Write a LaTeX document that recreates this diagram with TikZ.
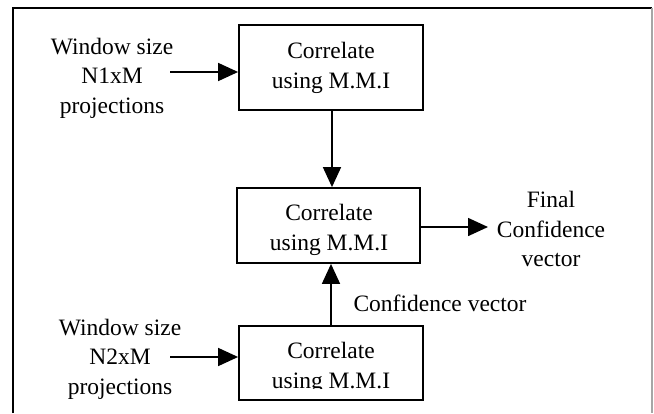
\documentclass[tikz,border=0pt]{standalone}
\usepackage{fontspec}
\setmainfont{Liberation Serif}
\usetikzlibrary{arrows.meta,calc}
\begin{document}
\begin{tikzpicture}[x=1pt,y=-1pt,
  boxnode/.style={draw,line width=1.8pt,inner sep=0pt},
  txt/.style={align=center,inner sep=0pt,font=\fontsize{23.5}{29.5}\selectfont},
  arr/.style={line width=1.6pt,-{Triangle[length=20pt,width=18pt]}}]
\useasboundingbox (0,0) rectangle (654,413);
\fill[white] (0,0) rectangle (654,413);
% frame
\draw[line width=2pt] (13,413) -- (13,8) -- (652,8);
\draw[line width=1.5pt,gray!70] (652,8) -- (652,413);
% boxes
\node[boxnode,minimum width=184pt,minimum height=85pt] (b1) at (331,67.5) {};
\node[boxnode,minimum width=183pt,minimum height=75pt] (b2) at (328.5,225.5) {};
\node[boxnode,minimum width=184pt,minimum height=74pt] (b3) at (331,363) {};
\node[txt] (t1) at (331,68) {Correlate\\using M.M.I};
\node[txt] (t2) at (329,230) {Correlate\\using M.M.I};
\begin{scope}
\clip (0,330) rectangle (654,388);
\node[txt] (t3) at (331,368) {Correlate\\using M.M.I};
\end{scope}
% inputs
\node[txt] (in1) at (112,78) {Window size\\N1xM\\projections};
\begin{scope}
\clip (0,300) rectangle (654,398);
\node[txt] (in2) at (120,359) {Window size\\N2xM\\projections};
\end{scope}
\coordinate (s1) at (170,72);
\coordinate (s2) at (170,357);
\draw[arr] (s1) -- (s1 -| b1.west);
\draw[arr] (s2) -- (s2 -| b3.west);
% vertical arrows
\draw[arr] (332,0 |- b1.south) -- (332,0 |- b2.north);
\draw[arr] (331,0 |- b3.north) -- (331,0 |- b2.south);
\node[txt] (cv) at (440,303) {Confidence vector};
% output
\coordinate (o) at (488,227);
\draw[arr] (o -| b2.east) -- (o);
\node[txt] (fin) at (551,229) {Final\\Confidence\\vector};
\end{tikzpicture}
\end{document}
